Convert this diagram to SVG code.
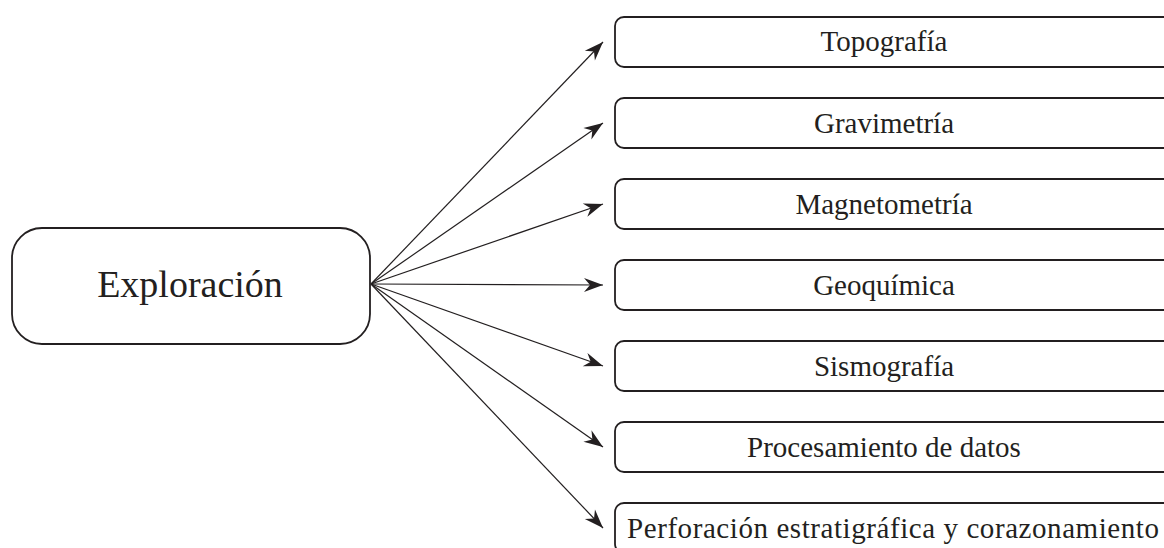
<svg xmlns="http://www.w3.org/2000/svg" width="1164" height="548" viewBox="0 0 1164 548">
  <style>
    .box { fill: #ffffff; stroke: #231f20; stroke-width: 1.8; }
    .lbl { font-family: "Liberation Serif", "Times New Roman", serif; font-size: 29px; fill: #231f20; text-anchor: middle; }
    .main { font-family: "Liberation Serif", "Times New Roman", serif; font-size: 38px; fill: #231f20; text-anchor: middle; }
    .conn { stroke: #231f20; stroke-width: 1.2; fill: none; marker-end: url(#arrow); }
  </style>
  <defs>
    <marker id="arrow" viewBox="-20 -10 22 20" markerWidth="22" markerHeight="20" refX="0" refY="0" markerUnits="userSpaceOnUse" orient="auto" overflow="visible">
      <path d="M0,0 L-19,-7 L-13,0 L-19,7 Z" fill="#231f20"/>
    </marker>
  </defs>
  <rect width="1164" height="548" fill="#ffffff"/>

  <g id="connectors">
    <line class="conn" x1="371" y1="284" x2="603" y2="42"/>
    <line class="conn" x1="371" y1="284" x2="603" y2="123"/>
    <line class="conn" x1="371" y1="284" x2="603" y2="204"/>
    <line class="conn" x1="371" y1="284" x2="603" y2="285"/>
    <line class="conn" x1="371" y1="284" x2="603" y2="366"/>
    <line class="conn" x1="371" y1="284" x2="603" y2="447"/>
    <line class="conn" x1="371" y1="284" x2="603" y2="528"/>
  </g>

  <g id="exploracion">
    <rect class="box" x="12" y="228" width="358" height="116" rx="30" ry="30"/>
    <text class="main" x="190" y="297">Exploración</text>
  </g>

  <g id="topografia">
    <rect class="box" x="615" y="17" width="580" height="50" rx="9" ry="9"/>
    <text class="lbl" x="884" y="51">Topografía</text>
  </g>
  <g id="gravimetria">
    <rect class="box" x="615" y="98" width="580" height="50" rx="9" ry="9"/>
    <text class="lbl" x="884" y="133">Gravimetría</text>
  </g>
  <g id="magnetometria">
    <rect class="box" x="615" y="179" width="580" height="50" rx="9" ry="9"/>
    <text class="lbl" x="884" y="214">Magnetometría</text>
  </g>
  <g id="geoquimica">
    <rect class="box" x="615" y="260" width="580" height="50" rx="9" ry="9"/>
    <text class="lbl" x="884" y="295">Geoquímica</text>
  </g>
  <g id="sismografia">
    <rect class="box" x="615" y="341" width="580" height="50" rx="9" ry="9"/>
    <text class="lbl" x="884" y="376">Sismografía</text>
  </g>
  <g id="procesamiento">
    <rect class="box" x="615" y="422" width="580" height="50" rx="9" ry="9"/>
    <text class="lbl" x="884" y="457">Procesamiento de datos</text>
  </g>
  <g id="perforacion">
    <rect class="box" x="615" y="503" width="580" height="50" rx="9" ry="9"/>
    <text class="lbl" x="627" y="538" style="text-anchor:start" textLength="532" lengthAdjust="spacing">Perforación estratigráfica y corazonamiento</text>
  </g>
</svg>
